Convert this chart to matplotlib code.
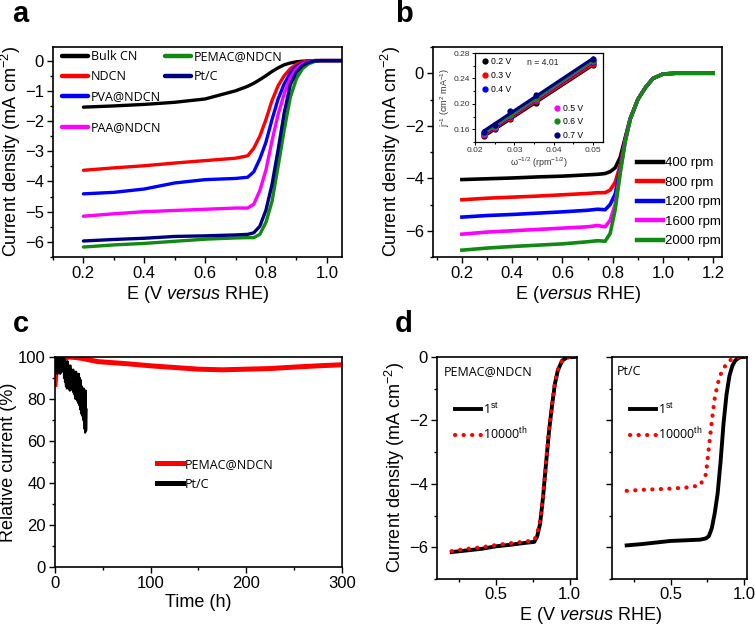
import matplotlib
matplotlib.use('Agg')
import matplotlib.pyplot as plt
import numpy as np
from matplotlib.ticker import MultipleLocator

plt.rcParams['font.family'] = ['Liberation Sans', 'DejaVu Sans']
plt.rcParams['mathtext.fontset'] = 'custom'
plt.rcParams['mathtext.rm'] = 'Liberation Sans'
plt.rcParams['mathtext.it'] = 'Liberation Sans:italic'
plt.rcParams['mathtext.bf'] = 'Liberation Sans:bold'

LEGFONT = ['Open Sans', 'DejaVu Sans']

# ---------------- Panel a data ----------------
E_a = [0.20, 0.30, 0.40, 0.50, 0.60, 0.70, 0.74, 0.76, 0.78, 0.80, 0.82,
       0.84, 0.86, 0.88, 0.90, 0.92, 0.94, 0.96, 0.98, 1.00, 1.05]
j_bulk = [-1.54, -1.50, -1.45, -1.38, -1.27, -1.00, -0.85, -0.75, -0.63, -0.50, -0.36,
          -0.24, -0.14, -0.08, -0.04, -0.02, -0.01, 0.0, 0.0, 0.0, 0.0]
j_ndcn = [-3.63, -3.55, -3.48, -3.39, -3.31, -3.23, -3.15, -2.90, -2.50, -1.95, -1.32,
          -0.83, -0.50, -0.27, -0.12, -0.05, -0.01, 0.0, 0.0, 0.0, 0.0]
j_pva = [-4.41, -4.36, -4.25, -4.05, -3.94, -3.90, -3.86, -3.68, -3.25, -2.70, -1.95,
         -1.27, -0.77, -0.41, -0.20, -0.09, -0.03, 0.0, 0.0, 0.0, 0.0]
j_paa = [-5.15, -5.07, -5.00, -4.96, -4.92, -4.88, -4.88, -4.75, -4.30, -3.62, -2.65,
         -1.78, -1.10, -0.57, -0.27, -0.11, -0.04, 0.0, 0.0, 0.0, 0.0]
j_pemac = [-6.17, -6.10, -6.05, -5.98, -5.91, -5.87, -5.86, -5.86, -5.75, -5.35, -4.66,
           -3.50, -2.30, -1.22, -0.60, -0.27, -0.11, -0.03, 0.0, 0.0, 0.0]
j_ptc = [-5.97, -5.92, -5.88, -5.82, -5.80, -5.77, -5.75, -5.70, -5.48, -4.95, -4.10,
         -2.95, -1.73, -0.80, -0.38, -0.16, -0.06, -0.01, 0.0, 0.0, 0.0]
labels_a = ['Bulk CN', 'NDCN', 'PVA@NDCN', 'PAA@NDCN', 'PEMAC@NDCN', 'Pt/C']
colors_a = ['#000000', '#ff0000', '#0000ff', '#ff00ff', '#108a10', '#000080']

# ---------------- Panel b data ----------------
E_b = [0.20, 0.30, 0.40, 0.50, 0.60, 0.70, 0.74, 0.77, 0.79, 0.81, 0.83,
       0.85, 0.87, 0.90, 0.93, 0.96, 1.00, 1.05, 1.20]
j_400 = [-4.05, -4.02, -3.99, -3.95, -3.92, -3.87, -3.85, -3.82, -3.75, -3.60, -3.20,
         -2.45, -1.72, -1.00, -0.55, -0.20, -0.03, 0.0, 0.0]
j_800 = [-4.82, -4.76, -4.72, -4.68, -4.63, -4.58, -4.55, -4.55, -4.45, -4.15, -3.50,
         -2.50, -1.73, -1.00, -0.55, -0.20, -0.03, 0.0, 0.0]
j_1200 = [-5.48, -5.42, -5.38, -5.33, -5.28, -5.22, -5.18, -5.20, -5.00, -4.60, -3.65,
          -2.55, -1.74, -1.00, -0.55, -0.20, -0.03, 0.0, 0.0]
j_1600 = [-6.13, -6.05, -6.00, -5.95, -5.90, -5.85, -5.80, -5.85, -5.60, -5.00, -3.75,
          -2.58, -1.75, -1.00, -0.55, -0.20, -0.03, 0.0, 0.0]
j_2000 = [-6.74, -6.66, -6.60, -6.55, -6.50, -6.42, -6.38, -6.40, -6.10, -5.20, -3.80,
          -2.60, -1.75, -1.00, -0.55, -0.20, -0.03, 0.0, 0.0]
labels_b = ['400 rpm', '800 rpm', '1200 rpm', '1600 rpm', '2000 rpm']
colors_b = ['#000000', '#ff0000', '#0000ff', '#ff00ff', '#108a10']

# inset (Koutecky-Levich)
w_inv = [0.0224, 0.0250, 0.0289, 0.0354, 0.0500]
kl_02 = [0.149, 0.160, 0.176, 0.202, 0.261]
kl_03 = [0.151, 0.162, 0.178, 0.204, 0.263]
kl_04 = [0.152, 0.163, 0.181, 0.207, 0.266]
kl_05 = [0.153, 0.164, 0.182, 0.208, 0.267]
kl_06 = [0.154, 0.165, 0.183, 0.209, 0.268]
kl_07 = [0.156, 0.167, 0.188, 0.214, 0.270]
labels_kl = ['0.2 V', '0.3 V', '0.4 V', '0.5 V', '0.6 V', '0.7 V']
colors_kl = ['#000000', '#ff0000', '#0000ff', '#ff00ff', '#108a10', '#000080']

# ---------------- Panel c data ----------------
t_pemac = [0, 1, 3, 6, 10, 15, 25, 45, 75, 100, 125, 150, 175, 200, 225, 250, 275, 300]
rc_pemac = [87, 92, 95, 98, 99.5, 100, 99.6, 97.8, 96.8, 95.8, 95.0, 94.2, 93.9, 94.2,
            94.5, 95.2, 95.8, 96.3]
t_ptc = [1.0, 1.5, 2.0, 2.5, 3.0, 3.5, 4.0, 4.5, 5.0, 5.5, 6.0, 6.5, 7.0, 7.5, 8.0, 8.5,
         9.0, 9.5, 10.0, 10.5, 11.0, 11.5, 12.0, 12.5, 13.0, 13.5, 14.0, 14.5, 15.0, 15.5,
         16.0, 16.5, 17.0, 17.5, 18.0, 18.5, 19.0, 19.5, 20.0, 20.5, 21.0, 21.5, 22.0,
         22.5, 23.0, 23.5, 24.0, 24.5, 25.0, 25.5, 26.0, 26.5, 27.0, 27.5, 28.0, 28.5,
         29.0, 29.5, 30.0, 30.5, 31.0, 31.5, 32.0, 32.5, 33.0]
rc_ptc = [100, 93, 100, 92, 100, 94, 100, 93, 100, 92, 100, 93, 100, 94, 100, 93,
          99, 90, 99, 88, 98, 86, 97, 85, 98, 87, 96, 85, 95, 84,
          96, 86, 94, 85, 93, 84, 94, 83, 93, 82, 92, 80, 93,
          81, 92, 79, 91, 78, 92, 77, 90, 75, 89, 73, 86, 72,
          84, 70, 85, 66, 84, 64, 84, 65, 75]
labels_c = ['PEMAC@NDCN', 'Pt/C']

# ---------------- Panel d data ----------------
E_d1 = [0.20, 0.30, 0.40, 0.50, 0.60, 0.70, 0.76, 0.78, 0.80, 0.82, 0.84, 0.86,
        0.88, 0.90, 0.92, 0.95, 0.98, 1.00, 1.05]
pemac_1st = [-6.15, -6.10, -6.05, -5.97, -5.92, -5.86, -5.83, -5.65, -5.25, -4.40, -3.35,
             -2.35, -1.55, -0.85, -0.42, -0.11, -0.02, 0.0, 0.0]
pemac_10k = [-6.12, -6.05, -6.00, -5.93, -5.87, -5.82, -5.78, -5.55, -5.15, -4.35, -3.30,
             -2.30, -1.50, -0.82, -0.40, -0.10, -0.02, 0.0, 0.0]
E_d2 = [0.20, 0.30, 0.40, 0.50, 0.60, 0.70, 0.74, 0.76, 0.78, 0.80, 0.82, 0.84, 0.86,
        0.88, 0.90, 0.92, 0.94, 0.97, 1.00, 1.02]
ptc_1st = [-5.94, -5.90, -5.85, -5.80, -5.78, -5.76, -5.72, -5.65, -5.40, -4.93, -4.30,
           -3.30, -2.10, -1.20, -0.60, -0.28, -0.11, -0.01, 0.0, 0.0]
ptc_10k = [-4.22, -4.19, -4.17, -4.15, -4.12, -4.05, -3.70, -2.86, -2.03, -1.30, -0.85,
           -0.55, -0.37, -0.22, -0.12, -0.06, 0.0, 0.0, 0.0, 0.0]
labels_d = ['1$^{\\mathrm{st}}$', '10000$^{\\mathrm{th}}$']

# ---------------- figure ----------------
W, H = 755, 631
fig = plt.figure(figsize=(W / 100, H / 100), dpi=100)


def rect(l, t, r, b):
    return [l / W, 1 - b / H, (r - l) / W, (b - t) / H]


def style(ax, xmaj, xmin, ymaj, ymin, lsize=12):
    ax.xaxis.set_major_locator(MultipleLocator(xmaj))
    ax.xaxis.set_minor_locator(MultipleLocator(xmin))
    ax.yaxis.set_major_locator(MultipleLocator(ymaj))
    ax.yaxis.set_minor_locator(MultipleLocator(ymin))
    ax.tick_params(which='both', direction='out', top=False, right=False,
                   labelsize=lsize, width=1.0, pad=2)
    ax.tick_params(which='major', length=4.5)
    ax.tick_params(which='minor', length=2.5)
    for s in ax.spines.values():
        s.set_linewidth(1.2)


XLAB = 'E (V $\\mathit{versus}$ RHE)'
YLAB = 'Current density (mA cm$^{-2}$)'

# ---- a ----
axa = fig.add_axes(rect(53, 47, 342, 257))
series_a = [j_bulk, j_ndcn, j_pva, j_paa, j_pemac, j_ptc]
lines_a = []
for y, c, lab in zip(series_a, colors_a, labels_a):
    ln, = axa.plot(E_a, y, color=c, lw=2.4, label=lab, solid_capstyle='round')
    lines_a.append(ln)
axa.set_xlim(0.1, 1.05)
axa.set_ylim(-6.5, 0.45)
style(axa, 0.2, 0.1, 1, 0.5)
axa.set_xlabel(XLAB, fontsize=13, labelpad=2)
axa.set_ylabel(YLAB, fontsize=13, labelpad=1)
legkw = dict(frameon=False, prop={'family': LEGFONT, 'size': 9}, handlelength=2.1,
             handletextpad=0.2, borderpad=0, borderaxespad=0, labelspacing=0.55)
lg1 = axa.legend(handles=lines_a[0:3], loc='upper left', bbox_to_anchor=(0.031, 0.985), **legkw)
axa.add_artist(lg1)
lg2 = axa.legend(handles=[lines_a[3]], loc='upper left', bbox_to_anchor=(0.031, 0.648), **legkw)
axa.add_artist(lg2)
lg3 = axa.legend(handles=[lines_a[4], lines_a[5]], loc='upper left', bbox_to_anchor=(0.388, 0.985), **legkw)
for lg in (lg1, lg2, lg3):
    for h in lg.legend_handles:
        h.set_linewidth(3.2)

# ---- b ----
axb = fig.add_axes(rect(433, 47, 722, 257))
series_b = [j_400, j_800, j_1200, j_1600, j_2000]
lines_b = []
for y, c, lab in zip(series_b, colors_b, labels_b):
    ln, = axb.plot(E_b, y, color=c, lw=2.6, label=lab)
    lines_b.append(ln)
axb.set_xlim(0.085, 1.235)
axb.set_ylim(-7, 1.0)
style(axb, 0.2, 0.1, 2, 1)
axb.set_xlabel('E ($\\mathit{versus}$ RHE)', fontsize=13, labelpad=2)
axb.set_ylabel(YLAB, fontsize=13, labelpad=1)
lgb = axb.legend(handles=lines_b, loc='upper left', bbox_to_anchor=(0.706, 0.475), frameon=False,
                 prop={'family': ['Liberation Sans'], 'size': 9.5}, handlelength=2.0,
                 handletextpad=0.15, borderpad=0, borderaxespad=0, labelspacing=0.55)
for h in lgb.legend_handles:
    h.set_linewidth(3.2)

# inset
axi = fig.add_axes(rect(475, 53, 603, 142))
series_kl = [kl_02, kl_03, kl_04, kl_05, kl_06, kl_07]
kl_handles = []
xfit = np.array([w_inv[0], w_inv[-1]])
for y, c, lab in zip(series_kl, colors_kl, labels_kl):
    p = np.polyfit(w_inv, y, 1)
    axi.plot(xfit, np.polyval(p, xfit), color=c, lw=2.2)
    h, = axi.plot(w_inv, y, 'o', color=c, ms=3.5, label=lab, mec=c)
    kl_handles.append(h)
axi.set_xlim(0.02, 0.0525)
axi.set_ylim(0.14, 0.28)
axi.xaxis.set_major_locator(MultipleLocator(0.01))
axi.xaxis.set_minor_locator(MultipleLocator(0.005))
axi.yaxis.set_major_locator(MultipleLocator(0.04))
axi.yaxis.set_minor_locator(MultipleLocator(0.02))
axi.xaxis.set_major_formatter(matplotlib.ticker.FormatStrFormatter('%.2f'))
axi.yaxis.set_major_formatter(matplotlib.ticker.FormatStrFormatter('%.2f'))
axi.tick_params(which='both', direction='out', top=False, right=False, labelsize=6,
                width=0.7, pad=1, labelcolor='#333333')
axi.tick_params(which='major', length=2.5)
axi.tick_params(which='minor', length=1.5)
for s in axi.spines.values():
    s.set_linewidth(0.9)
axi.set_xlabel('ω$^{-1/2}$ (rpm$^{-1/2}$)', fontsize=6.5, labelpad=1, color='#333333')
axi.set_ylabel('j$^{-1}$ (cm$^2$ mA$^{-1}$)', fontsize=6.5, labelpad=1, color='#333333')
ikw = dict(frameon=False, prop={'family': ['Liberation Sans'], 'size': 6.2}, handlelength=0.6,
           handletextpad=0.4, borderpad=0, borderaxespad=0, labelspacing=0.55)
li1 = axi.legend(handles=kl_handles[:3], loc='upper left', bbox_to_anchor=(0.06, 0.95), **ikw)
axi.add_artist(li1)
axi.legend(handles=kl_handles[3:], loc='upper left', bbox_to_anchor=(0.62, 0.43), **ikw)
axi.text(0.41, 0.89, 'n = 4.01', transform=axi.transAxes, fontsize=6.2, va='center',
         color='#222222')

# ---- c ----
axc = fig.add_axes(rect(55, 357, 342, 567))
lc1, = axc.plot(t_pemac, rc_pemac, color='#ff0000', lw=3.6, label=labels_c[0])
lc2, = axc.plot(t_ptc, rc_ptc, color='#000000', lw=1.6, label=labels_c[1])
axc.set_xlim(0, 300)
axc.set_ylim(0, 100)
style(axc, 100, 50, 20, 10)
axc.set_xlabel('Time (h)', fontsize=13, labelpad=2)
axc.set_ylabel('Relative current (%)', fontsize=13, labelpad=1)
lgc = axc.legend(handles=[lc1, lc2], loc='upper left', bbox_to_anchor=(0.355, 0.52), frameon=False,
                 prop={'family': LEGFONT, 'size': 9}, handlelength=2.1, handletextpad=0.1,
                 borderpad=0, borderaxespad=0, labelspacing=0.55)
for h in lgc.legend_handles:
    h.set_linewidth(3.6)

# ---- d ----
dotted = (0, (0.05, 2.0))
axd1 = fig.add_axes(rect(437, 357, 577, 579))
h1, = axd1.plot(E_d1, pemac_1st, color='#000000', lw=2.8, label=labels_d[0])
h2, = axd1.plot(E_d1, pemac_10k, color='#ff0000', lw=3.0, ls=dotted, dash_capstyle='round',
                label=labels_d[1])
axd1.set_xlim(0.1, 1.05)
axd1.set_ylim(-7, 0)
style(axd1, 0.5, 0.25, 2, 1)
axd1.tick_params(axis='x', which='both', pad=1)
axd1.set_ylabel(YLAB, fontsize=13, labelpad=1)
axd1.text(0.045, 0.935, 'PEMAC@NDCN', transform=axd1.transAxes, fontsize=9,
          family=LEGFONT, va='center')
dkw = dict(frameon=False, prop={'family': LEGFONT, 'size': 9}, handlelength=2.1,
           handletextpad=0.15, borderpad=0, borderaxespad=0, labelspacing=0.7)
axd1.legend(handles=[h1, h2], loc='upper left', bbox_to_anchor=(0.125, 0.80), **dkw)

axd2 = fig.add_axes(rect(612, 357, 747, 579))
g1, = axd2.plot(E_d2, ptc_1st, color='#000000', lw=2.8, label=labels_d[0])
g2, = axd2.plot(E_d2, ptc_10k, color='#ff0000', lw=3.0, ls=dotted, dash_capstyle='round',
                label=labels_d[1])
axd2.set_xlim(0.1, 1.02)
axd2.set_ylim(-7, 0)
style(axd2, 0.5, 0.25, 2, 1)
axd2.tick_params(axis='x', which='both', pad=1)
axd2.tick_params(axis='y', which='both', labelleft=False)
axd2.text(0.035, 0.935, 'Pt/C', transform=axd2.transAxes, fontsize=9,
          family=LEGFONT, va='center')
axd2.legend(handles=[g1, g2], loc='upper left', bbox_to_anchor=(0.13, 0.80), **dkw)
fig.text(590 / W, 1 - 620 / H, XLAB, fontsize=13, ha='center', va='baseline')

# panel letters
for lt, x, y in [('a', 12, 22), ('b', 395, 22), ('c', 13, 332), ('d', 395, 332)]:
    fig.text(x / W, 1 - y / H, lt, fontsize=21, fontweight='bold', va='baseline', ha='left')

fig.savefig('out.png', dpi=100)
